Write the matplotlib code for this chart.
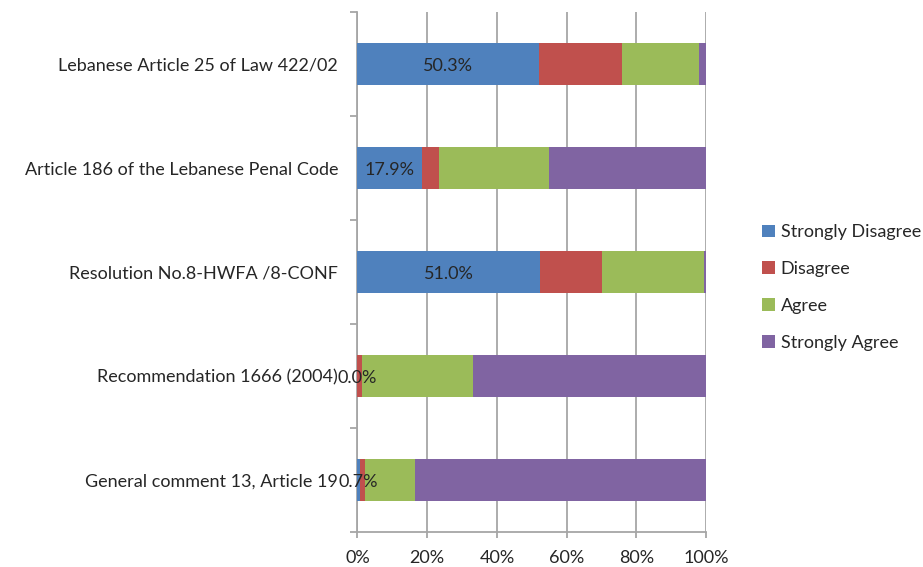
import matplotlib.pyplot as plt
import numpy as np
from matplotlib.patches import Patch

plt.rcParams['font.family'] = ['Lato', 'DejaVu Sans']

# data, top row first
categories = ["Lebanese Article 25 of Law 422/02",
              "Article 186 of the Lebanese Penal Code",
              "Resolution No.8-HWFA /8-CONF",
              "Recommendation 1666 (2004)",
              "General comment 13, Article 19"]
strongly_disagree = [52.0, 18.5, 52.4, 0.0, 0.6]
disagree = [24.0, 4.8, 17.8, 1.2, 1.5]
agree = [21.9, 31.7, 29.2, 31.9, 14.3]
strongly_agree = [2.1, 45.0, 0.6, 66.9, 83.6]
bar_labels = ["50.3%", "17.9%", "51.0%", "0.0%", "0.7%"]

series_names = ["Strongly Disagree", "Disagree", "Agree", "Strongly Agree"]
colors = ["#4F81BD", "#C0504D", "#9BBB59", "#8064A2"]
grid_col = "#A6A6A6"
text_col = "#262626"
fs = 13

fig = plt.figure(figsize=(9.23, 5.67), dpi=100)
ax = fig.add_axes([0.3873, 0.0617, 0.7649 - 0.3873, 0.9788 - 0.0617])

y = np.arange(len(categories))
left = np.zeros(len(categories))
for vals, c in zip([strongly_disagree, disagree, agree, strongly_agree], colors):
    ax.barh(y, vals, left=left, height=0.4, color=c, linewidth=0, zorder=3)
    left = left + np.array(vals)

# data labels centred on the first segment
for i, lab in enumerate(bar_labels):
    ax.text(strongly_disagree[i] / 2, y[i], lab, ha='center', va='center_baseline',
            fontsize=fs, color=text_col, zorder=4)

ax.set_xlim(0, 100)
ax.set_ylim(len(categories) - 0.5, -0.5)
ax.set_xticks(np.arange(0, 101, 20))
ax.set_xticklabels([f"{v}%" for v in range(0, 101, 20)])
ax.set_yticks(y)
ax.set_yticklabels(categories)
ax.set_yticks(np.arange(-0.5, len(categories), 1.0), minor=True)

ax.grid(axis='x', color=grid_col, linewidth=1.3, zorder=0)
for s in ['top', 'right']:
    ax.spines[s].set_visible(False)
for s in ['left', 'bottom']:
    ax.spines[s].set_color(grid_col)
    ax.spines[s].set_linewidth(1.3)

ax.tick_params(axis='y', which='major', length=0, pad=14, labelsize=fs, labelcolor=text_col)
ax.tick_params(axis='y', which='minor', length=5, width=1.3, color=grid_col)
ax.tick_params(axis='x', length=4.5, width=1.3, color=grid_col, pad=8.5,
               labelsize=fs, labelcolor=text_col)

handles = [Patch(facecolor=c, edgecolor='none') for c in colors]
fig.legend(handles, series_names, loc='upper left', bbox_to_anchor=(0.8085, 0.633),
           frameon=False, fontsize=fs, handlelength=0.7, handleheight=0.7,
           handletextpad=0.3, labelspacing=1.15, labelcolor=text_col)

fig.savefig("out.png", dpi=100)
